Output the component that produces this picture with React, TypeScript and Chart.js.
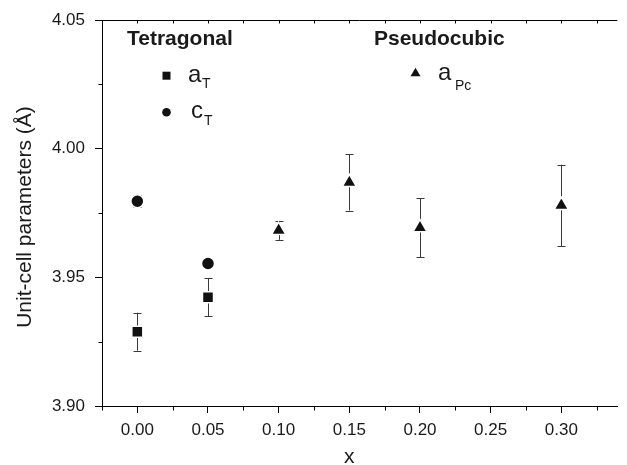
import React, { useEffect, useRef } from "react";
import { Chart, registerables } from "chart.js";

Chart.register(...registerables);

// Data
const xTetragonal = [0.0, 0.05];
const aT = [3.9289, 3.9423];
const aTErr = [0.0074, 0.0075];
const cT = [3.9796, 3.9554];
const cTErr = [0.0023, 0.0017];

const xPseudocubic = [0.1, 0.15, 0.2, 0.3];
const aPc = [3.9683, 3.9869, 3.9693, 3.978];
const aPcErr = [0.0037, 0.0109, 0.0114, 0.0158];

const xTicks = [0.0, 0.05, 0.1, 0.15, 0.2, 0.25, 0.3];
const xMinorTicks = [-0.025, 0.025, 0.075, 0.125, 0.175, 0.225, 0.275, 0.325];
const yTicks = [3.9, 3.95, 4.0, 4.05];
const yMinorTicks = [3.925, 3.975, 4.025];

const FONT = "'Liberation Sans', Arial, Helvetica, sans-serif";
const INK = "#1a1a1a";

const toPts = (xs: number[], ys: number[]) => xs.map((x, i) => ({ x, y: ys[i] }));

const errMap: Record<string, number[]> = { aT: aTErr, cT: cTErr, aPc: aPcErr };

const extrasPlugin = {
  id: "extras",
  beforeDatasetsDraw(chart: any) {
    const { ctx } = chart;
    const ys = chart.scales.y;
    ctx.save();
    ctx.strokeStyle = "#3a3a3a";
    ctx.lineWidth = 1;
    chart.data.datasets.forEach((ds: any, di: number) => {
      const errs = errMap[ds.key];
      if (!errs) return;
      const meta = chart.getDatasetMeta(di);
      meta.data.forEach((pt: any, i: number) => {
        const v = ds.data[i].y;
        const top = ys.getPixelForValue(v + errs[i]);
        const bot = ys.getPixelForValue(v - errs[i]);
        const x = Math.round(pt.x) + 0.5;
        ctx.beginPath();
        ctx.moveTo(x, top);
        ctx.lineTo(x, bot);
        ctx.moveTo(x - 4, Math.round(top) + 0.5);
        ctx.lineTo(x + 4, Math.round(top) + 0.5);
        ctx.moveTo(x - 4, Math.round(bot) + 0.5);
        ctx.lineTo(x + 4, Math.round(bot) + 0.5);
        ctx.stroke();
      });
    });
    ctx.restore();
  },
  afterDraw(chart: any) {
    const { ctx, chartArea } = chart;
    const xs = chart.scales.x;
    const ys = chart.scales.y;
    ctx.save();
    ctx.strokeStyle = "#000";
    ctx.lineWidth = 1;
    // top frame line
    const topY = Math.round(chartArea.top) + 0.5;
    ctx.beginPath();
    ctx.moveTo(chartArea.left, topY);
    ctx.lineTo(chartArea.right, topY);
    ctx.stroke();
    // minor x ticks (bottom, outward) and top ticks (inward)
    const botY = Math.round(chartArea.bottom) + 0.5;
    ctx.beginPath();
    xMinorTicks.forEach((v) => {
      const px = Math.round(xs.getPixelForValue(v)) + 0.5;
      ctx.moveTo(px, botY);
      ctx.lineTo(px, botY + 4);
    });
    [...xTicks, ...xMinorTicks].forEach((v) => {
      const px = Math.round(xs.getPixelForValue(v)) + 0.5;
      ctx.moveTo(px, topY);
      ctx.lineTo(px, topY + 3);
    });
    const leftX = Math.round(chartArea.left) + 0.5;
    yMinorTicks.forEach((v) => {
      const py = Math.round(ys.getPixelForValue(v)) + 0.5;
      ctx.moveTo(leftX, py);
      ctx.lineTo(leftX - 4, py);
    });
    ctx.stroke();

    // axis titles
    ctx.fillStyle = INK;
    ctx.font = `21px ${FONT}`;
    ctx.textAlign = "center";
    ctx.textBaseline = "alphabetic";
    ctx.fillText("x", xs.getPixelForValue(0.15), 463);
    ctx.save();
    ctx.translate(31, 217);
    ctx.rotate(-Math.PI / 2);
    ctx.fillText("Unit-cell parameters (\u00C5)", 0, 0);
    ctx.restore();

    // legend
    const L = chartArea.left;
    const T = chartArea.top;
    ctx.textAlign = "left";
    ctx.font = `bold 21px ${FONT}`;
    ctx.fillText("Tetragonal", L + 25, T + 25);
    ctx.fillText("Pseudocubic", L + 272, T + 25);

    ctx.fillStyle = "#111";
    // square
    ctx.fillRect(L + 60.5, T + 51.5, 8, 8);
    // circle
    ctx.beginPath();
    ctx.arc(L + 64.5, T + 92, 4.3, 0, Math.PI * 2);
    ctx.fill();
    // triangle
    ctx.beginPath();
    ctx.moveTo(L + 313.5, T + 47.5);
    ctx.lineTo(L + 318.5, T + 56);
    ctx.lineTo(L + 308.5, T + 56);
    ctx.closePath();
    ctx.fill();

    ctx.fillStyle = INK;
    ctx.font = `24px ${FONT}`;
    ctx.fillText("a", L + 86, T + 62);
    ctx.fillText("c", L + 89, T + 98);
    ctx.fillText("a", L + 336, T + 60);
    ctx.font = `14px ${FONT}`;
    ctx.fillText("T", L + 100, T + 68);
    ctx.fillText("T", L + 102, T + 105);
    ctx.fillText("Pc", L + 353, T + 70);
    ctx.restore();
  },
};

export default function App() {
  const ref = useRef<HTMLCanvasElement | null>(null);
  useEffect(() => {
    document.body.style.margin = "0";
    const canvas = ref.current;
    if (!canvas) return;
    const common = {
      showLine: false,
      backgroundColor: "#111",
      borderColor: "#fff",
      borderWidth: 1.5,
    };
    const chart = new Chart(canvas, {
      type: "scatter",
      data: {
        datasets: [
          { ...common, key: "aT", label: "aT", data: toPts(xTetragonal, aT), pointStyle: "rect", pointRadius: 7.8 } as any,
          { ...common, key: "cT", label: "cT", data: toPts(xTetragonal, cT), pointStyle: "circle", pointRadius: 6.5 } as any,
          { ...common, key: "aPc", label: "aPc", data: toPts(xPseudocubic, aPc), pointStyle: "triangle", pointRadius: 8.2 } as any,
        ],
      },
      options: {
        responsive: false,
        animation: false,
        devicePixelRatio: 1,
        layout: { padding: { top: 18, left: 0, right: 0, bottom: 0 } },
        plugins: { legend: { display: false }, tooltip: { enabled: false } },
        scales: {
          x: {
            type: "linear",
            min: -0.025,
            max: 0.3396,
            afterBuildTicks: (scale: any) => {
              scale.ticks = xTicks.map((v) => ({ value: v }));
            },
            afterFit: (scale: any) => {
              scale.height = 59;
            },
            ticks: {
              callback: (v: any) => Number(v).toFixed(2),
              color: INK,
              font: { family: FONT, size: 17 },
              padding: 7,
              maxRotation: 0,
              autoSkip: false,
            },
            grid: { display: true, drawOnChartArea: false, drawTicks: true, tickLength: 7, tickColor: "#000", lineWidth: 1 },
            border: { display: true, color: "#000", width: 1 },
          },
          y: {
            type: "linear",
            min: 3.9,
            max: 4.05,
            afterBuildTicks: (scale: any) => {
              scale.ticks = yTicks.map((v) => ({ value: v }));
            },
            afterFit: (scale: any) => {
              scale.width = 102;
            },
            ticks: {
              callback: (v: any) => Number(v).toFixed(2),
              color: INK,
              font: { family: FONT, size: 17 },
              padding: 10,
              autoSkip: false,
            },
            grid: { display: true, drawOnChartArea: false, drawTicks: true, tickLength: 7, tickColor: "#000", lineWidth: 1 },
            border: { display: true, color: "#000", width: 1 },
          },
        },
      },
      plugins: [extrasPlugin],
    } as any);
    return () => chart.destroy();
  }, []);
  return (
    <canvas
      ref={ref}
      width={627}
      height={465}
      style={{ display: "block", width: 627, height: 465 }}
    />
  );
}
